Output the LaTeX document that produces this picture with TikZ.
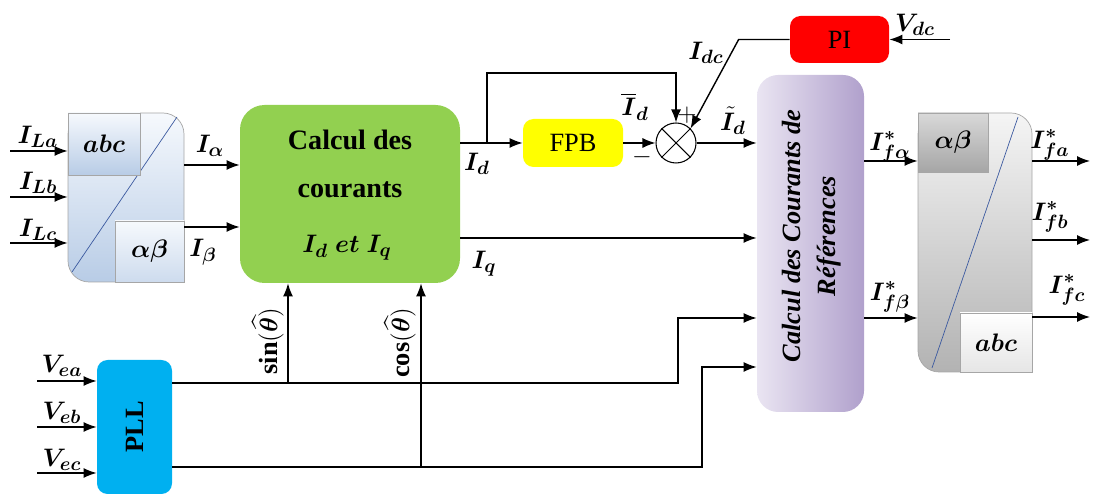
\documentclass[tikz,border=0pt]{standalone}
\usepackage{amsmath,amssymb}
\usepackage{bm}
\usepackage{fontspec}
\setmainfont{Liberation Serif}
\usepackage{xcolor}
\usetikzlibrary{positioning,arrows.meta,shapes.geometric,calc}

\definecolor{vert}{RGB}{146,208,80}
\definecolor{jaune}{RGB}{255,255,0}
\definecolor{rouge}{RGB}{255,0,0}
\definecolor{cyanpll}{RGB}{0,176,240}
\definecolor{lilasA}{RGB}{234,229,242}
\definecolor{lilasB}{RGB}{176,160,204}
\definecolor{bleuA}{RGB}{246,249,253}
\definecolor{bleuB}{RGB}{184,204,230}
\definecolor{diag}{RGB}{60,90,160}

\begin{document}
\begin{tikzpicture}[
    blk/.style={rounded corners=6pt, inner sep=0pt, align=center},
    trf/.style={draw=gray!70, rounded corners=12pt, inner sep=0pt},
    sub/.style={draw=gray!70, inner sep=0pt, font=\fontsize{15}{17}\selectfont},
    sig/.style={thick, -{Latex[length=2.6mm,width=2mm]}},
    lbl/.style={font=\fontsize{15}{17}\selectfont, inner sep=1pt}]
  \useasboundingbox (0,0) rectangle (21.86,10);
  % transformation abc -> alpha beta (left)
  \node[trf, top color=bleuA, bottom color=bleuB, minimum width=2.32cm, minimum height=3.38cm] (tabc) at (2.52,6.05) {};
  \draw[diag] (1.44,4.56) -- (3.54,7.66);
  \node[sub, top color=bleuA, bottom color=bleuB, minimum width=1.44cm, minimum height=1.24cm] (sabc) at (2.08,7.12) {$\bm{abc}$};
  \node[sub, top color=bleuA, bottom color=bleuB!70, minimum width=1.38cm, minimum height=1.22cm] (sab) at (2.99,4.97) {$\bm{\alpha\beta}$};
  % main blocks
  \node[blk, fill=vert, rounded corners=14pt, minimum width=4.4cm, minimum height=3.56cm] (calc) at (7.0,6.12) {};
  \node[font=\bfseries\fontsize{16}{18}\selectfont] (cal1) at (7.0,7.2) {Calcul des};
  \node[font=\bfseries\fontsize{16}{18}\selectfont] (cal2) at (7.0,6.2) {courants};
  \node[lbl] (cal3) at (6.94,5.04) {$\bm{I_d\;et\;I_q}$};
  \node[blk, fill=jaune, minimum width=2cm, minimum height=0.96cm, font=\fontsize{15}{17}\selectfont] (fpb) at (11.46,7.14) {FPB};
  \node[circle, draw, semithick, minimum size=0.8cm, inner sep=0pt] (som) at (13.52,7.14) {};
  \draw[semithick] (som.north west) -- (som.south east);
  \draw[semithick] (som.north east) -- (som.south west);
  \node[blk, fill=rouge, minimum width=1.98cm, minimum height=0.94cm, font=\fontsize{15}{17}\selectfont] (pi) at (16.79,9.21) {PI};
  \node[blk, rounded corners=12pt, left color=lilasA, right color=lilasB, minimum width=2.14cm, minimum height=6.74cm] (ref) at (16.21,5.13) {};
  \node[rotate=90, align=center, font=\bfseries\itshape\fontsize{15}{20}\selectfont] (tref) at (16.24,5.28) {Calcul des Courants de\\Références};
  \node[blk, fill=cyanpll, minimum width=1.5cm, minimum height=2.68cm] (pll) at (2.69,1.46) {};
  \node[rotate=90, font=\bfseries\fontsize{15}{17}\selectfont] (tpll) at (pll) {PLL};
  % transformation alpha beta -> abc (right)
  \node[trf, top color=gray!8, bottom color=gray!60, minimum width=2.28cm, minimum height=5.18cm] (tab) at (19.5,5.15) {};
  \draw[diag] (18.64,2.64) -- (20.36,7.66);
  \node[sub, top color=gray!30, bottom color=gray!70, minimum width=1.4cm, minimum height=1.18cm] (sab2) at (19.06,7.15) {$\bm{\alpha\beta}$};
  \node[sub, top color=white, bottom color=gray!20, minimum width=1.44cm, minimum height=1.18cm] (sabc2) at (19.92,3.15) {$\bm{abc}$};
  % load currents
  \foreach \y/\n in {6.98/a,6.06/b,5.14/c} {
    \coordinate (il\n) at (0.2,\y);
    \draw[sig] (il\n) -- (il\n -| tabc.west);
  }
  \node[lbl] (lila) at (0.76,7.26) {$\bm{I_{La}}$};
  \node[lbl] (lilb) at (0.76,6.34) {$\bm{I_{Lb}}$};
  \node[lbl] (lilc) at (0.76,5.40) {$\bm{I_{Lc}}$};
  \draw[sig] ([yshift=0.65cm]tabc.east) -- ([yshift=0.65cm]tabc.east -| calc.west);
  \draw[sig] ([yshift=-0.59cm]tabc.east) -- ([yshift=-0.59cm]tabc.east -| calc.west);
  \node[lbl] (lial) at (4.2,7.08) {$\bm{I_{\alpha}}$};
  \node[lbl] (libe) at (4.06,4.96) {$\bm{I_{\beta}}$};
  % Id branch, filter and sum
  \coordinate (br) at (9.74,7.14);
  \draw[sig] (fpb.west -| calc.east) -- (fpb.west);
  \draw[sig] (br) -- ++(0,1.4) -| (som.north);
  \draw[sig] (fpb) -- (som);
  \draw[sig] (pi.west) -- ++(-1.02,0) -- (som.north east);
  \coordinate (vdc) at (19.0,9.21);
  \draw[sig] (vdc) -- (pi.east);
  \draw[sig] (som.east) -- (som.east -| ref.west);
  \node[lbl] (lid) at (9.54,6.72) {$\bm{I_d}$};
  \node[lbl] (lidm) at (12.7,7.86) {$\bm{\overline{I}_d}$};
  \node[lbl] (lidt) at (14.66,7.58) {$\bm{\tilde{I}_d}$};
  \node[lbl] (lidc) at (14.12,8.94) {$\bm{I_{dc}}$};
  \node[lbl] (lvdc) at (18.3,9.5) {$\bm{V_{dc}}$};
  \node[lbl] (plus) at (13.74,7.7) {$+$};
  \node[lbl] (moins) at (12.84,6.86) {$-$};
  % Iq
  \draw[sig] ([yshift=-0.88cm]calc.east) -- ([yshift=-0.88cm]calc.east -| ref.west);
  \node[lbl] (liq) at (9.68,4.72) {$\bm{I_q}$};
  % PLL outputs
  \foreach \y/\n in {2.38/a,1.46/b,0.54/c} {
    \coordinate (ve\n) at (0.74,\y);
    \draw[sig] (ve\n) -- (ve\n -| pll.west);
  }
  \node[lbl] (lvea) at (1.24,2.68) {$\bm{V_{ea}}$};
  \node[lbl] (lveb) at (1.24,1.74) {$\bm{V_{eb}}$};
  \node[lbl] (lvec) at (1.24,0.80) {$\bm{V_{ec}}$};
  \coordinate (pa) at ([yshift=0.88cm]pll.east);
  \coordinate (pc) at ([yshift=-0.8cm]pll.east);
  \coordinate (k1) at (13.56,3.64);
  \coordinate (k2) at (14.04,2.66);
  \draw[sig] (pa) -| (k1) -- (k1 -| ref.west);
  \draw[sig] (pc) -| (k2) -- (k2 -| ref.west);
  \coordinate (sx) at (pa -| 5.76,0);
  \coordinate (cx) at (pc -| 8.42,0);
  \draw[sig] (sx) -- (sx |- calc.south);
  \draw[sig] (cx) -- (cx |- calc.south);
  \node[lbl, rotate=90] (lsin) at (5.36,3.18) {$\mathbf{sin}(\bm{\widehat{\theta}})$};
  \node[lbl, rotate=90] (lcos) at (8.0,3.14) {$\mathbf{cos}(\bm{\widehat{\theta}})$};
  % reference currents
  \draw[sig] ([yshift=1.65cm]ref.east) -- ([yshift=1.65cm]ref.east -| tab.west);
  \draw[sig] ([yshift=-1.49cm]ref.east) -- ([yshift=-1.49cm]ref.east -| tab.west);
  \node[lbl] (lifa) at (17.8,7.06) {$\bm{I^{*}_{f\alpha}}$};
  \node[lbl] (lifb) at (17.8,4.06) {$\bm{I^{*}_{f\beta}}$};
  \foreach \y/\n in {6.78/a,5.2/b,3.66/c} {
    \coordinate (of\n) at (21.8,\y);
    \draw[sig] (of\n -| tab.east) -- (of\n);
  }
  \node[lbl] (loa) at (21.0,7.1) {$\bm{I^{*}_{fa}}$};
  \node[lbl] (lob) at (21.0,5.66) {$\bm{I^{*}_{fb}}$};
  \node[lbl] (loc) at (21.34,4.2) {$\bm{I^{*}_{fc}}$};
\end{tikzpicture}
\end{document}
